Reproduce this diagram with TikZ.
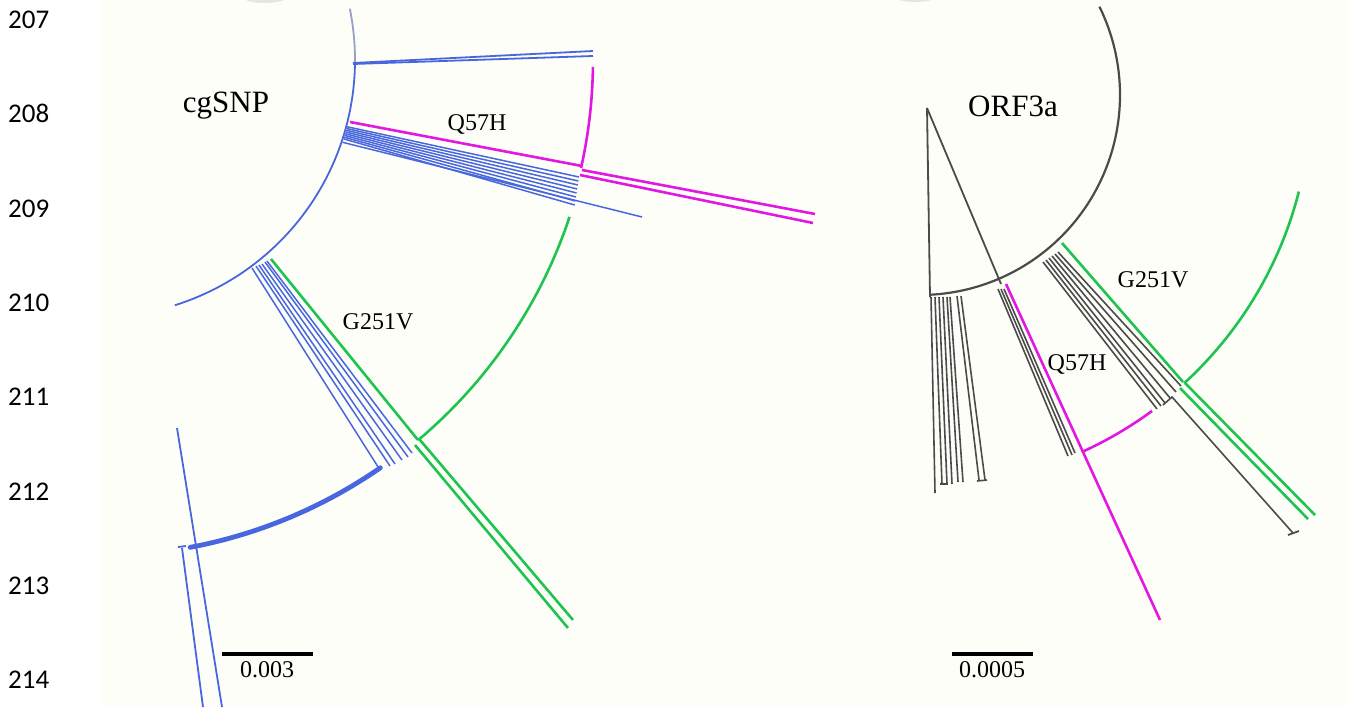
\documentclass[tikz,border=0pt]{standalone}
\usepackage{fontspec}
\setmainfont{Liberation Serif}
\newfontfamily\numfont{Carlito}
\definecolor{tblue}{RGB}{72,102,222}
\definecolor{tmag}{RGB}{226,24,226}
\definecolor{tgreen}{RGB}{30,195,80}
\definecolor{tgrey}{RGB}{75,75,75}
\definecolor{fadeblue}{RGB}{150,160,195}
\definecolor{bgc}{RGB}{254,254,249}
\begin{document}
\begin{tikzpicture}[x=1pt,y=-1pt,
  blu/.style={draw=tblue,line width=1.8pt},
  mag/.style={draw=tmag,line width=2.6pt},
  grn/.style={draw=tgreen,line width=2.6pt},
  gry/.style={draw=tgrey,line width=1.8pt},
  numlbl/.style={font=\numfont\fontsize{27}{30}\selectfont,inner sep=0pt,anchor=base west},
  title/.style={font=\fontsize{31}{34}\selectfont,inner sep=0pt},
  mut/.style={font=\fontsize{24}{26}\selectfont,inner sep=0pt},
  scl/.style={font=\fontsize{24}{26}\selectfont,inner sep=0pt},
  bar/.style={draw=black,line width=4.5pt}]
\useasboundingbox (0,0) rectangle (1348,707);
\fill[white] (0,0) rectangle (1348,707);
\fill[bgc] (100,0) rectangle (1348,707);
% faint blurs at the top edge
\fill[gray!20] (265,-3) ellipse [x radius=22, y radius=6];
\fill[gray!20] (915,-3) ellipse [x radius=20, y radius=5];

% line numbers
\foreach \n [count=\i from 0] in {207,...,214}
  \node[numlbl] (ln\n) at (8,{28.5+94.3*\i}) {\n};

% ================= left tree (cgSNP) =================
\coordinate (C1) at (98,60);
\draw[draw=fadeblue,line width=1.8pt] plot[domain=-11.5:0.5,samples=20] ({98+257*cos(\x)},{60+257*sin(\x)});
\draw[blu] plot[domain=0.5:72.6,samples=90] ({98+257*cos(\x)},{60+257*sin(\x)});
% top double branch
\draw[blu] (353,63) -- (593,51);
\draw[blu] (353,64) -- (593,56);
% Q57H branch
\draw[mag] (350,122) -- (582,166);
\draw[mag] plot[domain=0.8:12.6,samples=30] ({98+495*cos(\x)},{60+495*sin(\x)});
\draw[mag] (582,170) -- (815,214);
\draw[mag] (580,175) -- (813,223);
% blue fan
\foreach \i in {0,...,7}
  \draw[blu,line width=1.5pt] ({98+258*cos(15+0.4*\i)},{60+258*sin(15+0.4*\i)}) -- ({579-0.6*\i},{177+4*\i});
\draw[blu,line width=1.5pt] ({98+258*cos(18.6)},{60+258*sin(18.6)}) -- (642,217);
% lower fan
\draw[blu,line width=1.5pt] (252,268) -- (380,470);
\draw[blu,line width=1.5pt] (256,266) -- (390,466);
\draw[blu,line width=1.5pt] (259,265) -- (395,464);
\draw[blu,line width=1.5pt] (262,264) -- (402,460);
\draw[blu,line width=1.5pt] (265,262) -- (408,457);
\draw[blu,line width=1.5pt] (267,261) -- (412,453);
% G251V branch
\draw[grn] (271,259) -- (418,440);
\draw[grn] plot[domain=18.4:49.9,samples=40] ({98+497*cos(\x)},{60+497*sin(\x)});
\draw[grn] (420,440) -- (573,620);
\draw[grn] (415,445) -- (568,628);
% thick blue arc
\draw[blu,line width=4.8pt,line cap=round] plot[domain=55.3:79.3,samples=40] ({98+496*cos(\x)},{60+496*sin(\x)});
% bottom-left lines
\draw[blu] (177,428) -- (222,707);
\draw[blu] (182,548) -- (203,707);
\draw[blu] (178,547) -- (186,546);
% labels
\node[title] (cgsnp) at (226,106) {cgSNP};
\node[mut] (q57hL) at (477,124) {Q57H};
\node[mut] (g251vL) at (378,322) {G251V};
% scale bar
\coordinate (sbL1) at (222,654);
\coordinate (sbL2) at (313,654);
\draw[bar] (sbL1) -- (sbL2);
\node[scl] (sclL) at (267,670) {0.003};

% ================= right tree (ORF3a) =================
\coordinate (C2) at (920,95);
\draw[gry,line width=2.2pt] plot[domain=-26.2:87.1,samples=90] ({920+200*cos(\x)},{95+200*sin(\x)});
% triangle
\coordinate (apex) at (927,108);
\draw[gry] (apex) -- (930,297);
\draw[gry] (apex) -- (1001,284);
% grey lines beside magenta
\draw[gry,line width=1.6pt] (998,289) -- (1068,456);
\draw[gry,line width=1.6pt] (1001,289) -- (1072,455);
\draw[gry,line width=1.6pt] (1004,289) -- (1075,453);
% magenta Q57H
\draw[mag] (1006,284) -- (1160,620);
\draw[mag] plot[domain=53.7:65.6,samples=20] ({920+392*cos(\x)},{95+392*sin(\x)});
% left bundle
\draw[gry,line width=1.6pt] (931,297) -- (935,493);
\draw[gry,line width=1.6pt] (935,297) -- (942,484);
\draw[gry,line width=1.6pt] (939,297) -- (947,484);
\draw[gry,line width=1.6pt] (943,297) -- (952,484);
\draw[gry,line width=1.6pt] (947,297) -- (958,482);
\draw[gry,line width=1.6pt] (950,297) -- (963,482);
\draw[gry,line width=1.6pt] (957,296) -- (979,480);
\draw[gry,line width=1.6pt] (961,296) -- (985,480);
\draw[gry,line width=1.6pt] (940,484) -- (948,484);
\draw[gry,line width=1.6pt] (977,481) -- (987,480);
% right grey fan
\draw[gry,line width=1.6pt] (1043,262) -- (1157,409);
\draw[gry,line width=1.6pt] (1046,260) -- (1161,406);
\draw[gry,line width=1.6pt] (1049,258) -- (1165,403);
\draw[gry,line width=1.6pt] (1052,256) -- (1170,398);
\draw[gry,line width=1.6pt] (1055,254) -- (1176,392);
\draw[gry,line width=1.6pt] (1058,252) -- (1181,386);
\draw[gry,line width=1.6pt] (1163,405) -- (1172,397) -- (1293,533);
\draw[gry,line width=1.8pt] (1288,535) -- (1299,531);
% green G251V
\draw[grn] (1062,243) -- (1183,382);
\draw[grn] plot[domain=14.3:47.5,samples=40] ({920+391*cos(\x)},{95+391*sin(\x)});
\draw[grn] (1185,383) -- (1315,515);
\draw[grn] (1180,388) -- (1308,519);
% labels
\node[title] (orf) at (1013,106) {ORF3a};
\node[mut] (g251vR) at (1153,280) {G251V};
\node[mut] (q57hR) at (1077,364) {Q57H};
% scale bar
\coordinate (sbR1) at (952,654);
\coordinate (sbR2) at (1033,654);
\draw[bar] (sbR1) -- (sbR2);
\node[scl] (sclR) at (992,670) {0.0005};
\end{tikzpicture}
\end{document}
